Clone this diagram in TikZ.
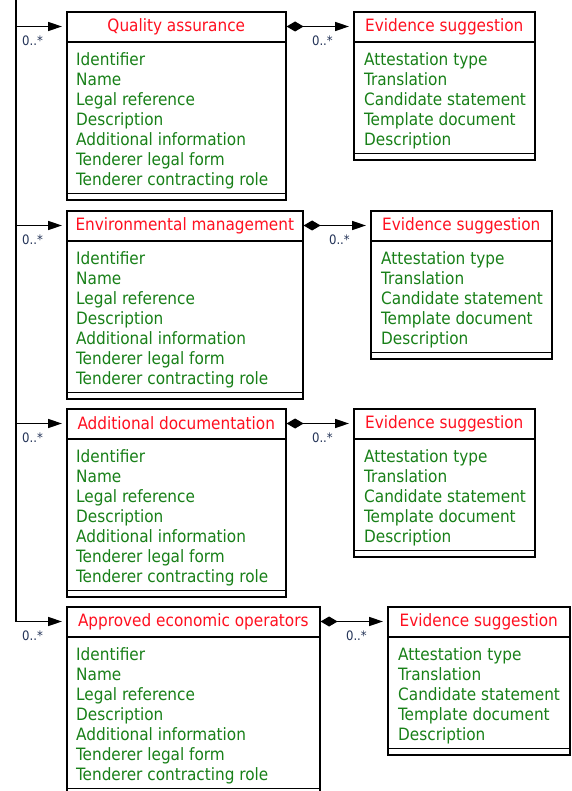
\documentclass[tikz,border=0pt]{standalone}
\usepackage{fontspec}
\setmainfont{DejaVu Sans Condensed}
\usetikzlibrary{arrows.meta, calc}

\definecolor{titlered}{RGB}{255,16,32}
\definecolor{attrgreen}{RGB}{24,128,24}
\definecolor{multnavy}{RGB}{36,52,88}

\newcommand{\critattrs}{Identifier\\Name\\Legal reference\\Description\\Additional information\\Tenderer legal form\\Tenderer contracting role}
\newcommand{\evidattrs}{Attestation type\\Translation\\Candidate statement\\Template document\\Description}

\tikzset{
    classbox/.style={draw=black, line width=1.6pt, anchor=north west, inner sep=0pt, minimum height=188pt},
    evidbox/.style={draw=black, line width=1.6pt, anchor=north west, inner sep=0pt, minimum width=181pt, minimum height=148pt},
    divider/.style={draw=black, line width=1.6pt},
    title/.style={text=titlered, inner sep=0pt, font=\fontsize{17}{20}\selectfont},
    attrs/.style={text=attrgreen, align=left, anchor=north west, inner sep=0pt, font=\fontsize{17}{20}\selectfont},
    mult/.style={text=multnavy, inner sep=0pt, font=\fontsize{13}{13}\selectfont},
    assoc/.style={line width=1.6pt, -{Triangle[length=14pt,width=9pt]}, shorten >=4pt},
    comp/.style={line width=1.6pt, {Diamond[length=17pt,width=10pt]}-{Triangle[length=14pt,width=9pt]}, shorten >=4pt}
}

\begin{document}
\begin{tikzpicture}[x=1pt, y=-1pt]
    \useasboundingbox (0,0) rectangle (571,791);
    \clip (0,0) rectangle (571,791);
    \fill[white] (0,0) rectangle (571,791);

    % quality assurance
    \node[classbox, minimum width=219pt] (qa) at (66,11) {};
    \node[title] (qahd) at ([yshift=-15.5pt]qa.north) {Quality assurance};
    \draw[divider] ([yshift=-31pt]qa.north west) -- ([yshift=-31pt]qa.north east);
    \draw[divider] ([yshift=7pt]qa.south west) -- ([yshift=7pt]qa.south east);
    \node[attrs] (qaat) at ([xshift=10pt,yshift=-41pt]qa.north west) {\critattrs};
    \node[evidbox] (qaev) at (353,11) {};
    \node[title] (qaevhd) at ([yshift=-15.5pt]qaev.north) {Evidence suggestion};
    \draw[divider] ([yshift=-31pt]qaev.north west) -- ([yshift=-31pt]qaev.north east);
    \draw[divider] ([yshift=7pt]qaev.south west) -- ([yshift=7pt]qaev.south east);
    \node[attrs] (qaevat) at ([xshift=11pt,yshift=-41pt]qaev.north west) {\evidattrs};

    % environmental management
    \node[classbox, minimum width=236pt] (em) at (66,210) {};
    \node[title] (emhd) at ([yshift=-15.5pt]em.north) {Environmental management};
    \draw[divider] ([yshift=-31pt]em.north west) -- ([yshift=-31pt]em.north east);
    \draw[divider] ([yshift=7pt]em.south west) -- ([yshift=7pt]em.south east);
    \node[attrs] (emat) at ([xshift=10pt,yshift=-41pt]em.north west) {\critattrs};
    \node[evidbox] (emev) at (370,210) {};
    \node[title] (emevhd) at ([yshift=-15.5pt]emev.north) {Evidence suggestion};
    \draw[divider] ([yshift=-31pt]emev.north west) -- ([yshift=-31pt]emev.north east);
    \draw[divider] ([yshift=7pt]emev.south west) -- ([yshift=7pt]emev.south east);
    \node[attrs] (emevat) at ([xshift=11pt,yshift=-41pt]emev.north west) {\evidattrs};

    % additional documentation
    \node[classbox, minimum width=219pt] (ad) at (66,408) {};
    \node[title] (adhd) at ([yshift=-15.5pt]ad.north) {Additional documentation};
    \draw[divider] ([yshift=-31pt]ad.north west) -- ([yshift=-31pt]ad.north east);
    \draw[divider] ([yshift=7pt]ad.south west) -- ([yshift=7pt]ad.south east);
    \node[attrs] (adat) at ([xshift=10pt,yshift=-41pt]ad.north west) {\critattrs};
    \node[evidbox] (adev) at (353,408) {};
    \node[title] (adevhd) at ([yshift=-15.5pt]adev.north) {Evidence suggestion};
    \draw[divider] ([yshift=-31pt]adev.north west) -- ([yshift=-31pt]adev.north east);
    \draw[divider] ([yshift=7pt]adev.south west) -- ([yshift=7pt]adev.south east);
    \node[attrs] (adevat) at ([xshift=11pt,yshift=-41pt]adev.north west) {\evidattrs};

    % approved economic operators
    \node[classbox, minimum width=253pt] (ao) at (66,606) {};
    \node[title] (aohd) at ([yshift=-15.5pt]ao.north) {Approved economic operators};
    \draw[divider] ([yshift=-31pt]ao.north west) -- ([yshift=-31pt]ao.north east);
    \draw[divider] ([yshift=7pt]ao.south west) -- ([yshift=7pt]ao.south east);
    \node[attrs] (aoat) at ([xshift=10pt,yshift=-41pt]ao.north west) {\critattrs};
    \node[evidbox, minimum width=182pt] (aoev) at (387,606) {};
    \node[title] (aoevhd) at ([yshift=-15.5pt]aoev.north) {Evidence suggestion};
    \draw[divider] ([yshift=-31pt]aoev.north west) -- ([yshift=-31pt]aoev.north east);
    \draw[divider] ([yshift=7pt]aoev.south west) -- ([yshift=7pt]aoev.south east);
    \node[attrs] (aoevat) at ([xshift=11pt,yshift=-41pt]aoev.north west) {\evidattrs};

    % bus on the left
    \coordinate (bus) at (16,0);
    \draw[assoc] (bus) -- (bus |- aohd) -- (ao.west |- aohd);
    \draw[assoc] (bus |- qahd) -- (qa.west |- qahd);
    \draw[assoc] (bus |- emhd) -- (em.west |- emhd);
    \draw[assoc] (bus |- adhd) -- (ad.west |- adhd);
    \node[mult, anchor=north west] (qamul) at ($(bus |- qahd)+(6,9)$) {0..*};
    \node[mult, anchor=north west] (emmul) at ($(bus |- emhd)+(6,9)$) {0..*};
    \node[mult, anchor=north west] (admul) at ($(bus |- adhd)+(6,9)$) {0..*};
    \node[mult, anchor=north west] (aomul) at ($(bus |- aohd)+(6,9)$) {0..*};

    % compositions
    \draw[comp] (qa.east |- qahd) -- (qaev.west |- qahd);
    \draw[comp] (em.east |- emhd) -- (emev.west |- emhd);
    \draw[comp] (ad.east |- adhd) -- (adev.west |- adhd);
    \draw[comp] (ao.east |- aohd) -- (aoev.west |- aohd);
    \node[mult, anchor=north east] (qaevmul) at ($(qaev.west |- qahd)+(-20,9)$) {0..*};
    \node[mult, anchor=north east] (emevmul) at ($(emev.west |- emhd)+(-20,9)$) {0..*};
    \node[mult, anchor=north east] (adevmul) at ($(adev.west |- adhd)+(-20,9)$) {0..*};
    \node[mult, anchor=north east] (aoevmul) at ($(aoev.west |- aohd)+(-20,9)$) {0..*};
\end{tikzpicture}
\end{document}
